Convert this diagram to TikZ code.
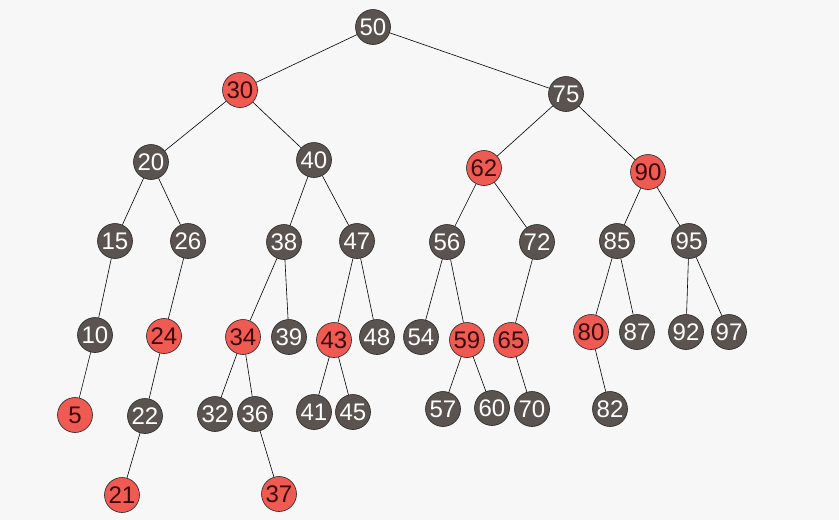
\documentclass[tikz,border=0pt]{standalone}
\usepackage{fontspec}
\setmainfont{Liberation Sans}
\begin{document}
\definecolor{bg}{HTML}{F7F7F7}
\definecolor{blk}{HTML}{5A534F}
\definecolor{rd}{HTML}{EF5A52}
\definecolor{rdtxt}{HTML}{3A0A0A}
\begin{tikzpicture}[x=1pt,y=-1pt,
  nd/.style={circle,draw=black!85,line width=0.6pt,minimum size=35pt,inner sep=0pt,
    font=\fontsize{24}{24}\selectfont},
  bn/.style={nd,fill=blk,text=white},
  rn/.style={nd,fill=rd,text=rdtxt},
  edge/.style={draw=black,line width=0.6pt}]
\fill[bg] (0,0) rectangle (839,520);
\useasboundingbox (0,0) rectangle (839,520);
% level 0-1
\node[bn] (n50) at (373,27) {50};
\node[rn] (n30) at (240,90) {30};
\node[bn] (n75) at (566,94) {75};
% level 2
\node[bn] (n20) at (151,162) {20};
\node[bn] (n40) at (314,160) {40};
\node[rn] (n62) at (484,168) {62};
\node[rn] (n90) at (648,172) {90};
% level 3
\node[bn] (n15) at (115,241) {15};
\node[bn] (n26) at (188,241) {26};
\node[bn] (n38) at (284,242) {38};
\node[bn] (n47) at (357,241) {47};
\node[bn] (n56) at (447,242) {56};
\node[bn] (n72) at (537,242) {72};
\node[bn] (n85) at (617,241) {85};
\node[bn] (n95) at (689,241) {95};
% level 4
\node[bn] (n10) at (95,335) {10};
\node[rn] (n24) at (164,336) {24};
\node[rn] (n34) at (243,337) {34};
\node[bn] (n39) at (289,337) {39};
\node[rn] (n43) at (334,340) {43};
\node[bn] (n48) at (377,337) {48};
\node[bn] (n54) at (421,337) {54};
\node[rn] (n59) at (467,340) {59};
\node[rn] (n65) at (511,340) {65};
\node[rn] (n80) at (591,332) {80};
\node[bn] (n87) at (637,332) {87};
\node[bn] (n92) at (686,332) {92};
\node[bn] (n97) at (729,332) {97};
% level 5
\node[rn] (n5) at (75,415) {5};
\node[bn] (n22) at (145,416) {22};
\node[bn] (n32) at (215,414) {32};
\node[bn] (n36) at (255,414) {36};
\node[bn] (n41) at (314,412) {41};
\node[bn] (n45) at (353,412) {45};
\node[bn] (n57) at (443,409) {57};
\node[bn] (n60) at (492,408) {60};
\node[bn] (n70) at (532,409) {70};
\node[bn] (n82) at (610,409) {82};
% level 6
\node[rn] (n21) at (122,495) {21};
\node[rn] (n37) at (279,494) {37};
% edges
\foreach \a/\b in {50/30,50/75,30/20,30/40,75/62,75/90,
  20/15,20/26,40/38,40/47,62/56,62/72,90/85,90/95,
  15/10,26/24,38/34,38/39,47/43,47/48,56/54,56/59,72/65,
  85/80,85/87,95/92,95/97,
  10/5,24/22,34/32,34/36,43/41,43/45,59/57,59/60,65/70,80/82,
  22/21,36/37}
  \draw[edge] (n\a) -- (n\b);
\end{tikzpicture}
\end{document}
